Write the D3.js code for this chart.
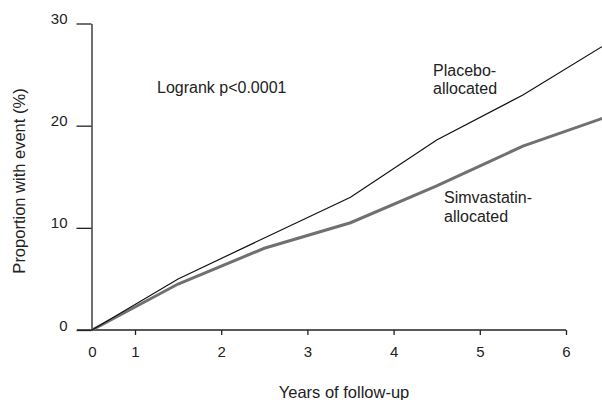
<!DOCTYPE html>
<html>
<head>
<meta charset="utf-8">
<script src="https://cdn.jsdelivr.net/npm/d3@7"></script>
<style>
  body { margin: 0; background: #fff; }
  text { font-family: "Liberation Sans", Arial, Helvetica, sans-serif; fill: #222; }
</style>
</head>
<body>
<div id="chart"></div>
<script>
// data
var years = [0, 1.5, 2.5, 3.5, 4.5, 5.5, 6.45];
var placebo = [0, 5, 9, 13, 18.6, 23, 27.9];
var simvastatin = [0, 4.5, 8, 10.5, 14.1, 18, 20.8];
var xTicks = [0, 1, 2, 3, 4, 5, 6];
var yTicks = [0, 10, 20, 30];

var width = 602, height = 400;

var svg = d3.select("#chart")
    .append("svg")
    .attr("width", width)
    .attr("height", height);

// the 0-1 interval is squeezed on the original axis
var x = d3.scaleLinear()
    .domain([0, 1, 6])
    .range([92, 135, 566]);

var y = d3.scaleLinear()
    .domain([0, 30])
    .range([330, 23.5]);

// y axis
var gy = svg.append("g")
    .attr("transform", "translate(91.5,0)")
    .call(d3.axisLeft(y).tickValues(yTicks).tickFormat(d3.format("d"))
        .tickSize(15).tickSizeOuter(0).tickPadding(9));
gy.selectAll("text")
    .attr("dy", 0)
    .style("font-size", "15px");

// x axis
var gx = svg.append("g")
    .attr("transform", "translate(0,330)")
    .call(d3.axisBottom(x).tickValues(xTicks).tickFormat(d3.format("d"))
        .tickSize(5).tickSizeOuter(0));
gx.select(".domain").remove();
gx.selectAll(".tick").filter(function (d) { return d === 0; }).select("line").remove();
gx.selectAll("text")
    .attr("y", 27)
    .attr("dy", 0)
    .style("font-size", "15px");
gx.append("line")
    .attr("x1", x(0) - 15)
    .attr("x2", x(6))
    .attr("stroke", "#222")
    .attr("stroke-width", 1.3);

svg.selectAll(".domain, .tick line")
    .attr("stroke", "#222")
    .attr("stroke-width", 1.3);

// curves
var line = d3.line()
    .x(function (d) { return x(d[0]); })
    .y(function (d) { return y(d[1]); });

svg.append("path")
    .datum(years.map(function (t, i) { return [t, simvastatin[i]]; }))
    .attr("d", line)
    .attr("fill", "none")
    .attr("stroke", "#707070")
    .attr("stroke-width", 3);

svg.append("path")
    .datum(years.map(function (t, i) { return [t, placebo[i]]; }))
    .attr("d", line)
    .attr("fill", "none")
    .attr("stroke", "#111")
    .attr("stroke-width", 1.2);

// annotations
svg.append("text")
    .attr("x", 157)
    .attr("y", 93)
    .style("font-size", "16px")
    .text("Logrank p<0.0001");

var pl = svg.append("text").attr("x", 433).attr("y", 76).style("font-size", "16px");
pl.append("tspan").attr("x", 433).text("Placebo-");
pl.append("tspan").attr("x", 433).attr("dy", 18).text("allocated");

var sv = svg.append("text").attr("x", 444).attr("y", 203).style("font-size", "16px");
sv.append("tspan").attr("x", 444).text("Simvastatin-");
sv.append("tspan").attr("x", 444).attr("dy", 19).text("allocated");

// axis titles
svg.append("text")
    .attr("transform", "translate(25,181) rotate(-90)")
    .attr("text-anchor", "middle")
    .style("font-size", "16.5px")
    .text("Proportion with event (%)");

svg.append("text")
    .attr("x", 344)
    .attr("y", 398)
    .attr("text-anchor", "middle")
    .style("font-size", "16.5px")
    .text("Years of follow-up");
</script>
</body>
</html>
